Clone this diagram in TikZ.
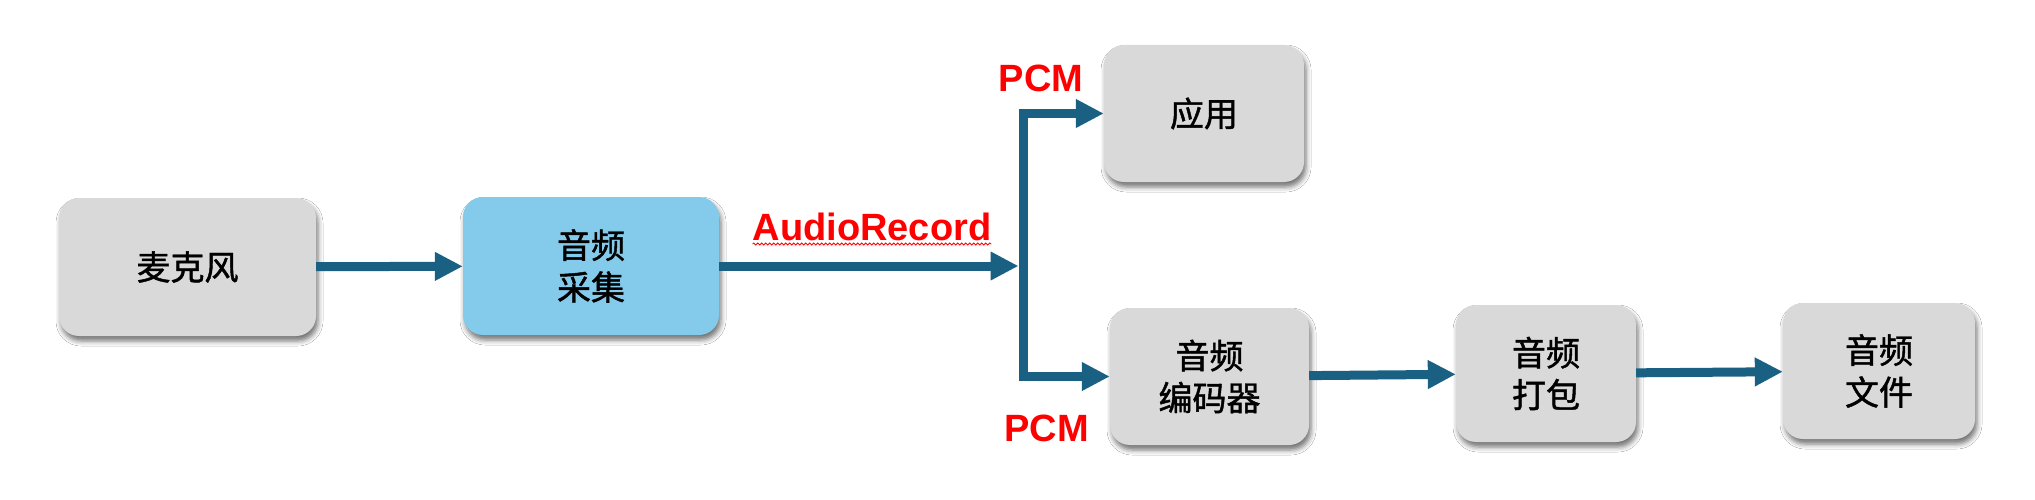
\documentclass[tikz,border=0pt]{standalone}
\usepackage{fontspec}
\setmainfont{Liberation Sans}
\newfontfamily\cjk{Noto Sans CJK SC}[FakeBold=1.3]
\usetikzlibrary{arrows.meta,shadows.blur,decorations.pathmorphing}
\definecolor{boxgray}{RGB}{217,217,217}
\definecolor{boxblue}{RGB}{131,202,235}
\definecolor{arrowblue}{RGB}{26,96,130}
\begin{document}
\begin{tikzpicture}[x=1pt,y=-1pt,
  box/.style={rounded corners=20pt, fill=boxgray, inner sep=0pt, align=center,
    font=\cjk\fontsize{34}{42}\selectfont,
    blur shadow={shadow xshift=2pt, shadow yshift=-5pt, shadow blur radius=5pt, shadow opacity=55}},
  arr/.style={draw=arrowblue, line width=9pt, -{Triangle[length=28pt,width=27pt]}, line join=miter},
  lbl/.style={text=red, font=\bfseries\fontsize{38}{44}\selectfont, inner sep=0pt, anchor=base}]
\useasboundingbox (0,0) rectangle (2035,500);
\fill[white] (0,0) rectangle (2035,500);

\node[box, minimum width=257pt, minimum height=138pt] (mic) at (187.5,267) {麦克风};
\node[box, fill=boxblue, minimum width=256pt, minimum height=138pt] (cap) at (591,266) {音频\\采集};
\node[box, minimum width=200pt, minimum height=137pt] (app) at (1204,113.5) {应用};
\node[box, minimum width=199pt, minimum height=137pt] (enc) at (1209.5,376.5) {音频\\编码器};
\node[box, minimum width=180pt, minimum height=137pt] (pack) at (1546,373.5) {音频\\打包};
\node[box, minimum width=192pt, minimum height=136pt] (file) at (1879,371) {音频\\文件};

\coordinate (jn) at (1023,266);
\coordinate (tip) at (1018.5,266);
\coordinate (jt) at (1023,113.5);
\coordinate (jb) at (1023,376.5);

\draw[arr] (mic) -- (cap);
\draw[arr] (cap.east |- tip) -- (tip);
\draw[arr] (jn) -- (jt) -- (app.west);
\draw[arr] (jn) -- (jb) -- (enc.west);
\draw[arr] (enc) -- (pack);
\draw[arr] (pack) -- (file);

\node[lbl] (ar) at (872,240) {AudioRecord};
\node[lbl] (pcm1) at (1041,92) {PCM};
\node[lbl] (pcm2) at (1046.5,441) {PCM};
\draw[red, line width=0.8pt, decorate, decoration={snake, amplitude=1pt, segment length=4pt}]
  ([yshift=-4pt]ar.base west) -- ([yshift=-4pt]ar.base east);
\end{tikzpicture}
\end{document}
